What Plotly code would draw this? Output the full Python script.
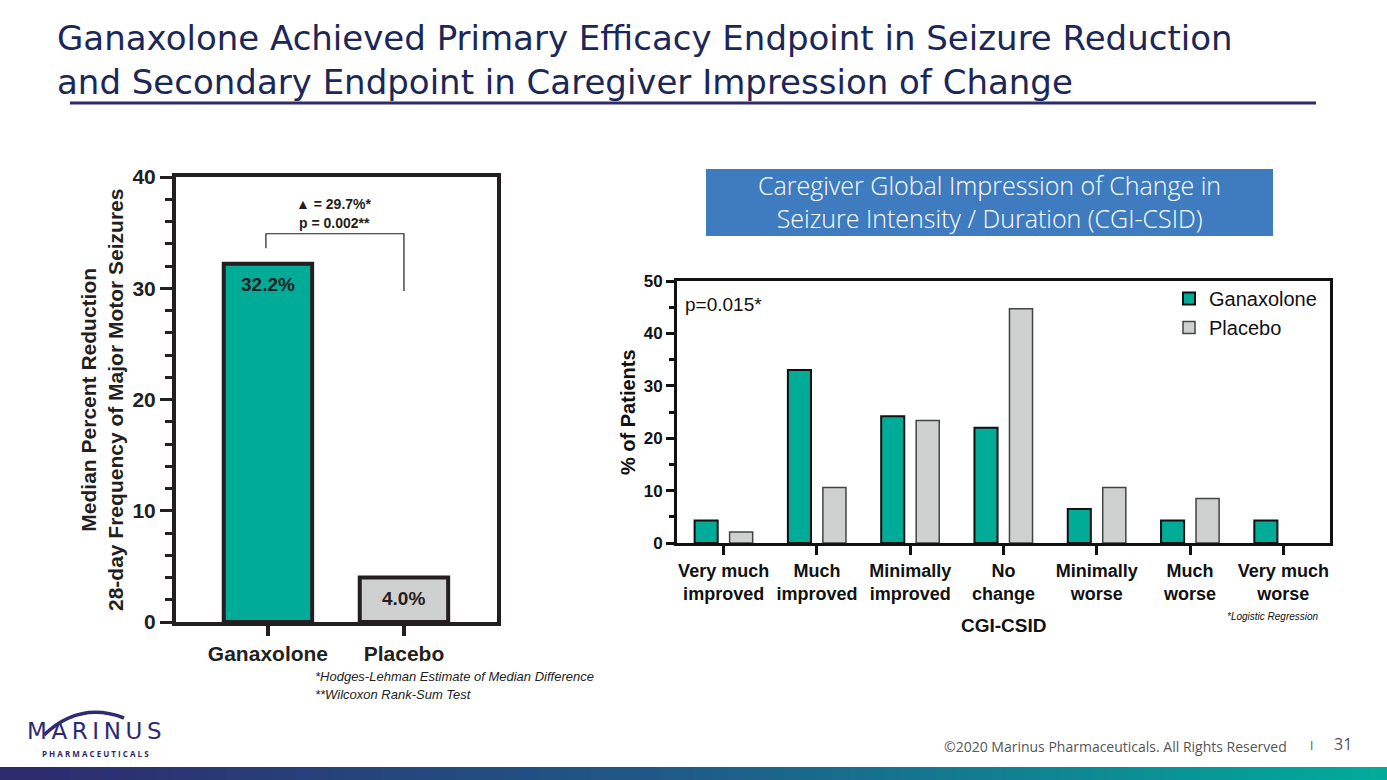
import plotly.graph_objects as go

# ---------------- data ----------------
left_categories = ["Ganaxolone", "Placebo"]
left_values = [32.2, 4.0]
left_labels = ["32.2%", "4.0%"]

cgi_categories = ["Very much improved", "Much improved", "Minimally improved", "No change",
                  "Minimally worse", "Much worse", "Very much worse"]
cgi_ticktext = ["Very much<br>improved", "Much<br>improved", "Minimally<br>improved", "No<br>change",
                "Minimally<br>worse", "Much<br>worse", "Very much<br>worse"]
ganaxolone_pct = [4.3, 33.0, 24.2, 22.0, 6.5, 4.3, 4.3]
placebo_pct = [2.1, 10.6, 23.4, 44.7, 10.6, 8.5, 0.0]

W, H = 1387, 780
def px(x): return x / W
def py(y): return 1 - y / H

TEAL = "#00ab98"
GRAY = "#cfd0d0"
DARK = "#231f20"
NAVY = "#1b2758"
ARIAL = "Liberation Sans, Arial, sans-serif"
SANS = "Open Sans, Lato, sans-serif"
WIDE = "DejaVu Sans, Open Sans, sans-serif"

fig = go.Figure()

# left chart
fig.add_trace(go.Bar(
    x=left_categories, y=left_values,
    marker=dict(color=[TEAL, GRAY], line=dict(color=DARK, width=4)),
    width=0.65, xaxis="x", yaxis="y", showlegend=False,
))

# right chart
fig.add_trace(go.Bar(
    x=cgi_categories, y=ganaxolone_pct, name="Ganaxolone",
    marker=dict(color=TEAL, line=dict(color="#111111", width=2)),
    xaxis="x2", yaxis="y2",
))
fig.add_trace(go.Bar(
    x=cgi_categories, y=placebo_pct, name="Placebo",
    marker=dict(color=GRAY, line=dict(color="#444444", width=[1.5] * 6 + [0])),
    xaxis="x2", yaxis="y2",
))

tickfont_l = dict(family=ARIAL, size=21, color=DARK, weight="bold")
tickfont_r = dict(family=ARIAL, size=17, color="#111111", weight="bold")

fig.update_layout(
    width=W, height=H,
    margin=dict(l=0, r=0, t=0, b=0),
    paper_bgcolor="white", plot_bgcolor="white",
    template="none",
    barmode="group", bargap=0.25, bargroupgap=0.34,
    xaxis=dict(domain=[px(176), px(497)], anchor="y", range=[-0.676, 1.684],
               showline=True, linewidth=4, linecolor=DARK, mirror=True,
               ticks="outside", ticklen=10, tickwidth=4, tickcolor=DARK,
               tickfont=dict(family=ARIAL, size=21, color=DARK, weight="bold"),
               showgrid=False, zeroline=False, fixedrange=True),
    yaxis=dict(domain=[py(622), py(177)], anchor="x", range=[0, 40], dtick=10,
               showline=True, linewidth=4, linecolor=DARK, mirror=True,
               ticks="outside", ticklen=12, tickwidth=3, tickcolor=DARK,
               minor=dict(dtick=2, ticks="outside", ticklen=7, tickwidth=3, tickcolor=DARK),
               tickfont=tickfont_l, showgrid=False, zeroline=False, fixedrange=True),
    xaxis2=dict(domain=[px(677), px(1330)], anchor="y2", range=[-0.5, 6.5],
                tickvals=cgi_categories, ticktext=cgi_ticktext,
                showline=True, linewidth=3, linecolor="#111111", mirror=True,
                ticks="outside", ticklen=9, tickwidth=3, tickcolor="#111111",
                tickfont=dict(family=ARIAL, size=18, color="#111111", weight="bold"),
                showgrid=False, zeroline=False, fixedrange=True),
    yaxis2=dict(domain=[py(543), py(281)], anchor="x2", range=[0, 50], dtick=10,
                showline=True, linewidth=3, linecolor="#111111", mirror=True,
                ticks="outside", ticklen=8, tickwidth=3, tickcolor="#111111",
                minor=dict(dtick=5, ticks="outside", ticklen=5, tickwidth=3, tickcolor="#111111"),
                tickfont=tickfont_r, showgrid=False, zeroline=False, fixedrange=True),
    legend=dict(x=px(1322), y=py(279), xanchor="right", yanchor="top",
                bgcolor="rgba(0,0,0,0)", font=dict(family=ARIAL, size=20, color="#111111"),
                tracegroupgap=2, itemwidth=30),
    showlegend=True,
)

shapes = []
# title underline
shapes.append(dict(type="line", xref="paper", yref="paper", x0=px(70), x1=px(1316),
                   y0=py(103), y1=py(103), line=dict(color="#2e2a6e", width=3)))
# blue box
shapes.append(dict(type="rect", xref="paper", yref="paper", x0=px(706), x1=px(1273),
                   y0=py(236), y1=py(169), fillcolor="#3f7bbf", line=dict(width=0)))
# significance bracket (left chart)
shapes.append(dict(type="path", xref="x", yref="y",
                   path="M -0.015,33.6 L -0.015,34.9 L 1.0,34.9 L 1.0,29.75",
                   line=dict(color=DARK, width=1.2)))
# bottom gradient bar
c0 = (0x2e, 0x2a, 0x6e)
c1 = (0x1f, 0x5c, 0x8a)
c2 = (0x00, 0xab, 0x9a)
N = 80
for i in range(N):
    t = i / (N - 1)
    if t < 0.5:
        a, b, s = c0, c1, t / 0.5
    else:
        a, b, s = c1, c2, (t - 0.5) / 0.5
    col = "rgb(%d,%d,%d)" % tuple(int(a[k] + (b[k] - a[k]) * s) for k in range(3))
    shapes.append(dict(type="rect", xref="paper", yref="paper",
                       x0=i / N, x1=(i + 1) / N + 0.002, y0=0, y1=py(767),
                       fillcolor=col, line=dict(width=0)))
# logo arc
shapes.append(dict(type="path", xref="paper", yref="paper",
                   path="M %.5f,%.5f Q %.5f,%.5f %.5f,%.5f" % (px(44), py(735), px(80), py(701), px(124), py(718)),
                   line=dict(color="#302a73", width=3.5)))
fig.update_layout(shapes=shapes)


def note(text, x, y, size, color, family=ARIAL, xa="center", ya="middle", angle=0, bold=False,
         align="center", weight=None):
    f = dict(family=family, size=size, color=color)
    if bold:
        f["weight"] = "bold"
    if weight is not None:
        f["weight"] = weight
    return dict(text=text, x=px(x), y=py(y), xref="paper", yref="paper", xanchor=xa, yanchor=ya,
                textangle=angle, showarrow=False, font=f, align=align)


ann = []
# bar value labels (placed from the data through the axes)
for cat, val, lab in zip(left_categories, left_values, left_labels):
    ann.append(dict(text=lab, x=cat, y=val, xref="x", yref="y", xanchor="center", yanchor="middle",
                    yshift=-21, showarrow=False,
                    font=dict(family=ARIAL, size=19, color=DARK, weight="bold")))
# title
ann.append(note("Ganaxolone Achieved Primary Efficacy Endpoint in Seizure Reduction<br>"
                "and Secondary Endpoint in Caregiver Impression of Change", 55, 60, 34, NAVY,
                family=WIDE, xa="left", align="left"))
# blue box text
ann.append(note("Caregiver Global Impression of Change in<br>Seizure Intensity / Duration (CGI-CSID)",
                989, 202, 25, "white", family=SANS, weight=300))
# left y title
ann.append(note("Median Percent Reduction<br>28-day Frequency of Major Motor Seizures", 102, 400, 21,
                DARK, angle=-90, bold=True))
# bracket texts
ann.append(note("▲ = 29.7%*", 334, 204, 14, DARK, bold=True))
ann.append(note("p = 0.002**", 334, 223, 14, DARK, bold=True))
# footnotes
ann.append(note("<i>*Hodges-Lehman Estimate of Median Difference</i>", 313, 676, 13, "#222222", xa="left"))
ann.append(note("<i>**Wilcoxon Rank-Sum Test</i>", 313, 694, 13, "#222222", xa="left"))
# right chart texts
ann.append(note("% of Patients", 628, 412, 20, "#111111", angle=-90, bold=True))
ann.append(note("p=0.015*", 683, 305, 19, "#111111", xa="left"))
ann.append(note("CGI-CSID", 1004, 625, 19, "#111111", bold=True))
ann.append(note("<i>*Logistic Regression</i>", 1321, 616, 10, "#111111", xa="right"))
# footer
ann.append(note("©2020 Marinus Pharmaceuticals. All Rights Reserved", 1289, 746, 14, "#555555",
                family=SANS, xa="right"))
ann.append(note("I", 1311, 745, 12, "#555555", family=SANS))
ann.append(note("31", 1343, 744, 16, "#555555", family=SANS))
ann.append(note("M\u2009A\u2009R\u2009I\u2009N\u2009U\u2009S", 94, 731, 23, "#302a73", family=WIDE))
ann.append(note("P H A R M A C E U T I C A L S", 95, 753, 8, "#302a73", family=SANS, bold=True))
fig.update_layout(annotations=ann)

fig.write_html("out.html", config={"displayModeBar": False},
               post_script="document.body.style.margin='0';")
